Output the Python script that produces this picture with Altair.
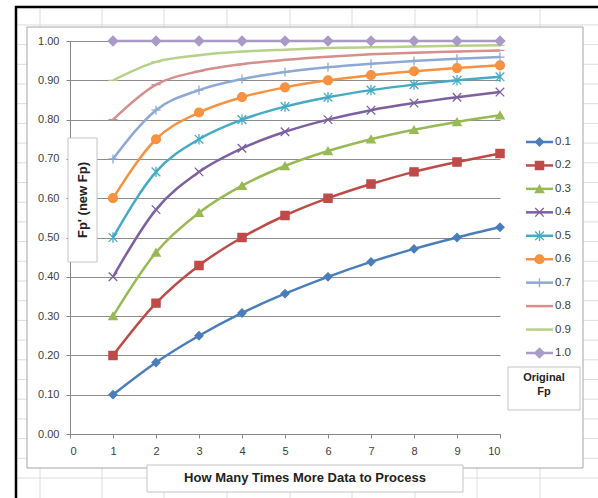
import altair as alt
import pandas as pd

# ---------------- data ----------------
n_values = [1, 2, 3, 4, 5, 6, 7, 8, 9, 10]
series = ["0.1", "0.2", "0.3", "0.4", "0.5", "0.6", "0.7", "0.8", "0.9", "1.0"]
fp_01 = [0.100, 0.182, 0.250, 0.308, 0.357, 0.400, 0.438, 0.471, 0.500, 0.526]
fp_02 = [0.200, 0.333, 0.429, 0.500, 0.556, 0.600, 0.636, 0.667, 0.692, 0.714]
fp_03 = [0.300, 0.462, 0.563, 0.632, 0.682, 0.720, 0.750, 0.774, 0.794, 0.811]
fp_04 = [0.400, 0.571, 0.667, 0.727, 0.769, 0.800, 0.824, 0.842, 0.857, 0.870]
fp_05 = [0.500, 0.667, 0.750, 0.800, 0.833, 0.857, 0.875, 0.889, 0.900, 0.909]
fp_06 = [0.600, 0.750, 0.818, 0.857, 0.882, 0.900, 0.913, 0.923, 0.931, 0.938]
fp_07 = [0.700, 0.824, 0.875, 0.903, 0.921, 0.933, 0.942, 0.949, 0.955, 0.959]
fp_08 = [0.800, 0.889, 0.923, 0.941, 0.952, 0.960, 0.966, 0.970, 0.973, 0.976]
fp_09 = [0.900, 0.947, 0.964, 0.973, 0.978, 0.982, 0.984, 0.986, 0.988, 0.989]
fp_10 = [1.000, 1.000, 1.000, 1.000, 1.000, 1.000, 1.000, 1.000, 1.000, 1.000]
all_series = [fp_01, fp_02, fp_03, fp_04, fp_05, fp_06, fp_07, fp_08, fp_09, fp_10]

y_ticks = [0.0, 0.1, 0.2, 0.3, 0.4, 0.5, 0.6, 0.7, 0.8, 0.9, 1.0]
x_ticks = [0, 1, 2, 3, 4, 5, 6, 7, 8, 9, 10]

y_title = "Fp' (new Fp)"
x_title = "How Many Times More Data to Process"
legend_title = ["Original", "Fp"]

# ---------------- styling ----------------
colors = ["#4A7EBB", "#BE4B48", "#98B954", "#7D60A0", "#46AAC5",
          "#F69240", "#8EA9D5", "#D58F8D", "#B7D08A", "#A99BC6"]
shapes = ["diamond", "square", "triangle-up",
          "M-1,-1L1,1M-1,1L1,-1",
          "M-1,-1L1,1M-1,1L1,-1M0,-1.2L0,1.2",
          "circle",
          "M0,-1L0,1M-1,0L1,0",
          "M-1,0L1,0",
          "M-1,0L1,0",
          "diamond"]
sizes = [64, 90, 100, 90, 90, 110, 90, 50, 50, 80]
FONT = "Liberation Sans"

rows = []
for s, vals in zip(series, all_series):
    for n, v in zip(n_values, vals):
        rows.append({"Fp": s, "n": n, "value": v})
df = pd.DataFrame(rows)
legend_df = pd.DataFrame({"Fp": series})
one = pd.DataFrame({"k": [0]})

W, H = 430, 393
OX, OY = 70, 41  # plot origin in page pixels

color_scale = alt.Scale(domain=series, range=colors)
shape_scale = alt.Scale(domain=series, range=shapes)
size_scale = alt.Scale(domain=series, range=sizes)

# ---------------- decoration: spreadsheet background (outside the chart box) ----------------
BOX_L, BOX_R, BOX_T, BOX_B = 27, 583, 27, 468
BORDER_L, BORDER_T = 17, 9
seg = []
for x in [40, 102, 164, 227, 290, 352, 415, 477, 540]:
    seg.append({"x1": x - OX, "x2": x - OX, "y1": BORDER_T - OY, "y2": BOX_T - OY})
    seg.append({"x1": x - OX, "x2": x - OX, "y1": BOX_B - OY, "y2": 498 - OY})
for k in range(24):
    y = 478 - 19.7 * k
    if y <= BORDER_T:
        continue
    if y < BOX_T or y > BOX_B:
        seg.append({"x1": BORDER_L - OX, "x2": 598 - OX, "y1": y - OY, "y2": y - OY})
    else:
        seg.append({"x1": BORDER_L - OX, "x2": BOX_L - OX, "y1": y - OY, "y2": y - OY})
        seg.append({"x1": BOX_R - OX, "x2": 598 - OX, "y1": y - OY, "y2": y - OY})
seg_df = pd.DataFrame(seg)

bg_grid = alt.Chart(seg_df).mark_rule(color="#dcdcdc", strokeWidth=1).encode(
    x=alt.X("x1:Q", scale=None, axis=None), x2="x2:Q",
    y=alt.Y("y1:Q", scale=None, axis=None), y2="y2:Q")

black_border = alt.Chart(one).mark_rect(fill=None, stroke="black", strokeWidth=2.5).encode(
    x=alt.value(16 - OX), x2=alt.value(900), y=alt.value(7 - OY), y2=alt.value(900))
chart_box = alt.Chart(one).mark_rect(fill=None, stroke="#a6a6a6", strokeWidth=1).encode(
    x=alt.value(BOX_L - OX), x2=alt.value(BOX_R - OX), y=alt.value(BOX_T - OY), y2=alt.value(BOX_B - OY))

# ---------------- main data ----------------
base = alt.Chart(df)
x_enc = alt.X("n:Q", scale=alt.Scale(domain=[0, 10], nice=False),
              axis=alt.Axis(values=x_ticks, format="d", grid=False, tickSize=4,
                            labelPadding=7, title=None))
y_enc = alt.Y("value:Q", scale=alt.Scale(domain=[0, 1], nice=False),
              axis=alt.Axis(values=y_ticks, format=".2f", grid=True, tickSize=4,
                            labelPadding=7, title=None))

lines = base.mark_line(interpolate="monotone", strokeWidth=2.5).encode(
    x=x_enc, y=y_enc,
    color=alt.Color("Fp:N", scale=color_scale, legend=None),
    detail="Fp:N")
points = base.mark_point(filled=True, strokeWidth=1.3, opacity=1).encode(
    x=x_enc, y=y_enc,
    color=alt.Color("Fp:N", scale=color_scale, legend=None),
    stroke=alt.Stroke("Fp:N", scale=color_scale, legend=None),
    shape=alt.Shape("Fp:N", scale=shape_scale, legend=None),
    size=alt.Size("Fp:N", scale=size_scale, legend=None))
main = alt.layer(lines, points)

# ---------------- legend ----------------
ly = alt.Y("Fp:N", scale=alt.Scale(type="point", domain=series, range=[142 - OY, 353 - OY], padding=0),
           axis=None)
lbase = alt.Chart(legend_df)
leg_line = lbase.mark_rule(strokeWidth=2.5).encode(
    y=ly, x=alt.value(526 - OX), x2=alt.value(553 - OX),
    color=alt.Color("Fp:N", scale=color_scale, legend=None))
leg_pt = lbase.mark_point(filled=True, strokeWidth=1.3, opacity=1).encode(
    y=ly, x=alt.value(539.5 - OX),
    color=alt.Color("Fp:N", scale=color_scale, legend=None),
    stroke=alt.Stroke("Fp:N", scale=color_scale, legend=None),
    shape=alt.Shape("Fp:N", scale=shape_scale, legend=None),
    size=alt.Size("Fp:N", scale=size_scale, legend=None))
leg_txt = lbase.mark_text(align="left", baseline="middle", font=FONT, fontSize=11.5,
                          color="#404040").encode(
    y=ly, x=alt.value(555 - OX), text="Fp:N")
legend = alt.layer(leg_line, leg_pt, leg_txt)

# ---------------- titles in boxes ----------------
box_style = dict(fill="white", stroke="#c4c4c4", strokeWidth=1)
ytitle_box = alt.Chart(one).mark_rect(**box_style).encode(
    x=alt.value(68 - OX), x2=alt.value(97 - OX), y=alt.value(138 - OY), y2=alt.value(262 - OY))
ytitle_txt = alt.Chart(one).mark_text(text=y_title, angle=270, font=FONT, fontSize=13,
                                      fontWeight="bold", color="#222222",
                                      baseline="middle", align="center").encode(
    x=alt.value(83 - OX), y=alt.value(200 - OY))
xtitle_box = alt.Chart(one).mark_rect(**box_style).encode(
    x=alt.value(147 - OX), x2=alt.value(463 - OX), y=alt.value(465 - OY), y2=alt.value(492 - OY))
xtitle_txt = alt.Chart(one).mark_text(text=x_title, font=FONT, fontSize=13,
                                      fontWeight="bold", color="#222222",
                                      baseline="middle", align="center").encode(
    x=alt.value(305 - OX), y=alt.value(478 - OY))
ltitle_box = alt.Chart(one).mark_rect(**box_style).encode(
    x=alt.value(508 - OX), x2=alt.value(580 - OX), y=alt.value(367 - OY), y2=alt.value(410 - OY))
ltitle_txt1 = alt.Chart(one).mark_text(text=legend_title[0], font=FONT, fontSize=11,
                                       fontWeight="bold", color="#222222",
                                       baseline="middle", align="center").encode(
    x=alt.value(544 - OX), y=alt.value(378 - OY))
ltitle_txt2 = alt.Chart(one).mark_text(text=legend_title[1], font=FONT, fontSize=11,
                                       fontWeight="bold", color="#222222",
                                       baseline="middle", align="center").encode(
    x=alt.value(544 - OX), y=alt.value(392 - OY))

chart = alt.layer(
    bg_grid, black_border, chart_box, main, legend,
    ytitle_box, ytitle_txt, xtitle_box, xtitle_txt, ltitle_box, ltitle_txt1, ltitle_txt2
).resolve_scale(x="independent", y="independent").properties(
    width=W, height=H,
    autosize=alt.AutoSizeParams(type="none"),
    padding={"left": OX, "top": OY, "right": 598 - OX - W, "bottom": 498 - OY - H},
    background="white",
).configure_view(stroke=None).configure_axis(
    labelFont=FONT, labelFontSize=11, labelColor="#404040",
    domainColor="#868686", tickColor="#868686", gridColor="#8c8c8c",
    domainWidth=1, gridWidth=1,
)

chart.save("out.html", embed_options={"renderer": "svg", "actions": False})
